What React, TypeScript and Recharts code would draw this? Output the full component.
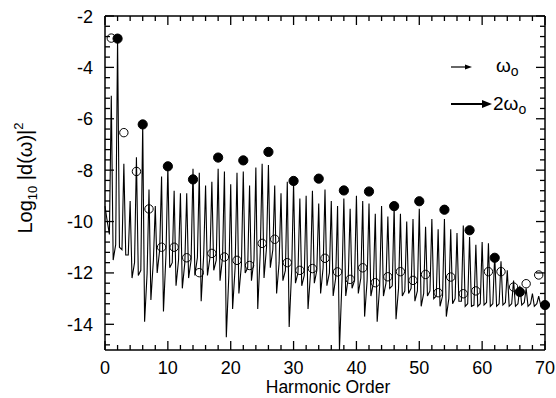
import React from 'react';
import { ComposedChart, Line, XAxis, YAxis, Customized } from 'recharts';

// harmonic order of each spectral spike (0..70)
const orders = Array.from({ length: 71 }, (_, i) => i);

// spectrum: height of the spike at each order
const specPeaks = [
  -9.4, -5.1, -2.88, -7.75, -9.2, -7.5, -6.2, -8.75, -9.4, -8.25,
  -7.85, -8.8, -8.9, -8.9, -7.95, -8.1, -8.6, -8.45, -7.95, -8.05,
  -8.55, -8.1, -8.05, -8.6, -7.9, -7.75, -7.8, -8.6, -8.9, -8.45,
  -8.5, -9.1, -9.0, -8.8, -9.3, -8.75, -9.2, -9.4, -9.1, -9.5,
  -9.0, -9.2, -9.3, -9.7, -9.4, -9.8, -9.4, -9.7, -10.0, -9.9,
  -9.5, -10.2, -9.9, -10.3, -9.9, -10.3, -10.45, -10.15, -10.6, -10.9,
  -10.8, -10.85, -11.3, -11.55, -11.9, -12.3, -12.5, -12.6, -12.8, -12.9,
  -13.2,
];
// spectrum: low point just after each spike
const specDips = [
  -9.9, -11.5, -11.0, -11.3, -12.2, -12.1, -13.9, -13.05, -12.0, -13.5,
  -11.8, -12.5, -12.6, -12.2, -12.1, -13.1, -12.1, -11.9, -12.3, -14.5,
  -13.4, -12.8, -12.0, -12.3, -13.4, -12.2, -11.8, -12.8, -12.3, -14.1,
  -12.4, -12.5, -13.4, -12.4, -12.8, -12.5, -12.9, -15.0, -12.9, -12.6,
  -12.8, -13.7, -12.9, -13.9, -12.9, -12.6, -13.8, -12.9, -12.8, -13.1,
  -13.3, -12.9, -13.0, -13.3, -13.7, -13.2, -13.1, -13.3, -13.3, -13.3,
  -13.25, -13.3, -13.3, -13.25, -13.3, -13.3, -13.25, -13.3, -13.3, -13.25,
];
// spectrum: level before the next spike
const specShoulders = [
  -10.5, -10.9, -11.1, -11.3, -11.6, -11.9, -12.0, -11.5, -11.1, -11.3,
  -11.6, -11.5, -11.6, -11.5, -11.4, -11.3, -11.4, -11.5, -11.4, -12.1,
  -11.8, -11.7, -11.8, -11.5, -11.2, -11.0, -11.1, -11.6, -11.9, -11.9,
  -12.0, -12.1, -12.0, -11.9, -11.8, -12.0, -12.2, -12.3, -12.2, -12.3,
  -12.2, -12.3, -12.4, -12.5, -12.4, -12.5, -12.6, -12.7, -12.6, -12.7,
  -12.8, -12.7, -12.9, -12.9, -13.0, -13.0, -13.1, -13.2, -13.25, -13.2,
  -13.15, -13.2, -13.2, -13.15, -13.2, -13.2, -13.15, -13.2, -13.2, -13.2,
];

// filled circles (2ω0 driven harmonics)
const filledOrders = [2, 6, 10, 14, 18, 22, 26, 30, 34, 38, 42, 46, 50, 54, 58, 62, 66, 70];
const filledValues = [
  -2.88, -6.22, -7.85, -8.36, -7.51, -7.62, -7.29, -8.42, -8.33, -8.79,
  -8.83, -9.4, -9.21, -9.54, -10.34, -11.41, -12.74, -13.25,
];

// open circles (odd harmonics)
const openOrders = [
  1, 3, 5, 7, 9, 11, 13, 15, 17, 19, 21, 23, 25, 27, 29, 31, 33, 35,
  37, 39, 41, 43, 45, 47, 49, 51, 53, 55, 57, 59, 61, 63, 65, 67, 69,
];
const openValues = [
  -2.86, -6.54, -8.05, -9.51, -11.0, -11.0, -11.41, -11.99, -11.24, -11.38,
  -11.51, -11.71, -10.85, -10.69, -11.6, -11.9, -11.83, -11.43, -11.96, -12.25,
  -11.8, -12.38, -12.15, -11.95, -12.29, -12.06, -12.77, -12.16, -12.81, -12.7,
  -11.95, -11.95, -12.55, -12.42, -12.08,
];

const xTicks: number[] = [];
for (let v = 0; v <= 70; v += 2) xTicks.push(v);
const yTicks: number[] = [];
for (let i = 0; i <= 32; i++) yTicks.push(Math.round((-2 - i * 0.4) * 10) / 10);

const spectrum: { x: number; y: number }[] = [];
orders.forEach((n, i) => {
  spectrum.push({ x: n, y: specPeaks[i] });
  if (i < specDips.length) {
    spectrum.push({ x: n + 0.3, y: specDips[i] });
    spectrum.push({ x: n + 0.7, y: specShoulders[i] });
  }
});
const filled = filledOrders.map((x, i) => ({ x, y: filledValues[i] }));
const open = openOrders.map((x, i) => ({ x, y: openValues[i] }));

const FONT = '"Liberation Sans", Arial, Helvetica, sans-serif';
const isMajorX = (v: number) => v % 10 === 0;
const isMajorY = (v: number) => Math.abs(v % 2) < 1e-6;

const BottomTick = (props: any) => {
  const { x, y, payload } = props;
  const major = isMajorX(payload.value);
  return (
    <g>
      <line x1={x} x2={x} y1={y} y2={y - (major ? 9 : 5)} stroke="#000" strokeWidth={1.3} />
      {major && (
        <text x={x} y={y + 24} textAnchor="middle" fontSize={18} fontFamily={FONT} fill="#000">
          {payload.value}
        </text>
      )}
    </g>
  );
};

const TopTick = (props: any) => {
  const { x, y, payload } = props;
  const major = isMajorX(payload.value);
  return <line x1={x} x2={x} y1={y} y2={y + (major ? 9 : 5)} stroke="#000" strokeWidth={1.3} />;
};

const LeftTick = (props: any) => {
  const { x, y, payload } = props;
  const major = isMajorY(payload.value);
  return (
    <g>
      <line x1={x} x2={x + (major ? 9 : 5)} y1={y} y2={y} stroke="#000" strokeWidth={1.3} />
      {major && (
        <text x={x - 12} y={y + 6.5} textAnchor="end" fontSize={18} fontFamily={FONT} fill="#000">
          {payload.value}
        </text>
      )}
    </g>
  );
};

const RightTick = (props: any) => {
  const { x, y, payload } = props;
  const major = isMajorY(payload.value);
  return <line x1={x} x2={x - (major ? 9 : 5)} y1={y} y2={y} stroke="#000" strokeWidth={1.3} />;
};

const Labels = () => (
  <g fontFamily={FONT} fill="#000">
    <text x={328} y={393} textAnchor="middle" fontSize={17.5}>
      Harmonic Order
    </text>
    <text x={32} y={178} textAnchor="middle" fontSize={20} transform="rotate(-90 32 178)">
      Log
      <tspan fontSize={13} dy={5}>10</tspan>
      <tspan dy={-5}> |d(ω)|</tspan>
      <tspan fontSize={13} dy={-9}>2</tspan>
    </text>
    {/* legend arrows */}
    <line x1={451} x2={468} y1={67} y2={67} stroke="#000" strokeWidth={1.2} />
    <polygon points="472,67 465,64.5 465,69.5" fill="#000" />
    <text x={496} y={72} fontSize={19}>
      ω<tspan fontSize={14} dy={4}>o</tspan>
    </text>
    <line x1={451} x2={484} y1={104} y2={104} stroke="#000" strokeWidth={2} />
    <polygon points="492,104 482,100 482,108" fill="#000" />
    <text x={493} y={110} fontSize={19}>
      2ω<tspan fontSize={14} dy={4}>o</tspan>
    </text>
  </g>
);

export default function App() {
  return (
    <div style={{ position: 'absolute', left: 0, top: 0, background: '#fff' }}>
      <ComposedChart
        width={556}
        height={398}
        margin={{ top: 15, right: 10, bottom: 8, left: 45 }}
      >
        <XAxis
          xAxisId="bottom"
          dataKey="x"
          type="number"
          domain={[0, 70]}
          ticks={xTicks}
          interval={0}
          orientation="bottom"
          height={40}
          tickSize={0}
          tickMargin={0}
          tickLine={false}
          axisLine={{ stroke: '#000', strokeWidth: 1.5 }}
          tick={BottomTick}
        />
        <XAxis
          xAxisId="top"
          dataKey="x"
          type="number"
          domain={[0, 70]}
          ticks={xTicks}
          interval={0}
          orientation="top"
          height={1}
          tickSize={0}
          tickMargin={0}
          tickLine={false}
          axisLine={{ stroke: '#000', strokeWidth: 1.5 }}
          tick={TopTick}
        />
        <YAxis
          yAxisId="left"
          type="number"
          domain={[-15, -2]}
          ticks={yTicks}
          interval={0}
          width={60}
          tickSize={0}
          tickMargin={0}
          tickLine={false}
          axisLine={{ stroke: '#000', strokeWidth: 1.5 }}
          tick={LeftTick}
        />
        <YAxis
          yAxisId="right"
          type="number"
          orientation="right"
          domain={[-15, -2]}
          ticks={yTicks}
          interval={0}
          width={1}
          tickSize={0}
          tickMargin={0}
          tickLine={false}
          axisLine={{ stroke: '#000', strokeWidth: 1.5 }}
          tick={RightTick}
        />
        <Line
          xAxisId="bottom"
          yAxisId="left"
          data={spectrum}
          dataKey="y"
          type="linear"
          stroke="#000"
          strokeWidth={1.1}
          dot={false}
          activeDot={false}
          isAnimationActive={false}
        />
        <Line
          xAxisId="top"
          yAxisId="left"
          data={open}
          dataKey="y"
          stroke="none"
          dot={{ r: 4.2, fill: 'none', stroke: '#000', strokeWidth: 1 }}
          activeDot={false}
          isAnimationActive={false}
        />
        <Line
          xAxisId="bottom"
          yAxisId="right"
          data={filled}
          dataKey="y"
          stroke="none"
          dot={{ r: 4.6, fill: '#000', stroke: '#000', strokeWidth: 1 }}
          activeDot={false}
          isAnimationActive={false}
        />
        <Customized component={Labels} />
      </ComposedChart>
    </div>
  );
}
